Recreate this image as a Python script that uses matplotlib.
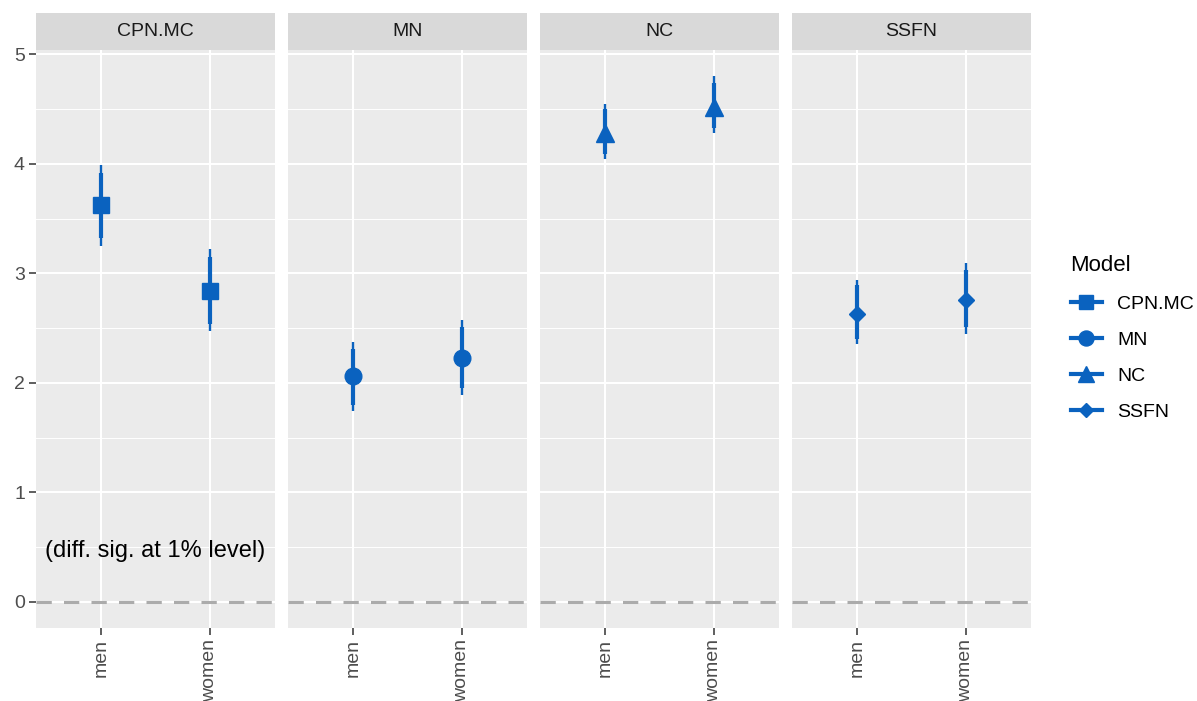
import matplotlib.pyplot as plt
import numpy as np
from matplotlib.lines import Line2D

plt.rcParams['font.family'] = ['Liberation Sans', 'DejaVu Sans']

models = ['CPN.MC', 'MN', 'NC', 'SSFN']
groups = ['men', 'women']
markers = {'CPN.MC': 's', 'MN': 'o', 'NC': '^', 'SSFN': 'D'}
msizes = {'CPN.MC': 11, 'MN': 12, 'NC': 13, 'SSFN': 8}

# point estimates and interval bounds per model, (men, women)
est = {'CPN.MC': [3.62, 2.84], 'MN': [2.06, 2.23], 'NC': [4.28, 4.52], 'SSFN': [2.63, 2.76]}
lo_outer = {'CPN.MC': [3.25, 2.47], 'MN': [1.74, 1.89], 'NC': [4.04, 4.28], 'SSFN': [2.35, 2.45]}
hi_outer = {'CPN.MC': [3.99, 3.22], 'MN': [2.37, 2.57], 'NC': [4.55, 4.80], 'SSFN': [2.94, 3.09]}
lo_inner = {'CPN.MC': [3.32, 2.54], 'MN': [1.80, 1.95], 'NC': [4.09, 4.33], 'SSFN': [2.40, 2.51]}
hi_inner = {'CPN.MC': [3.92, 3.15], 'MN': [2.31, 2.51], 'NC': [4.50, 4.74], 'SSFN': [2.89, 3.03]}

note = '(diff. sig. at 1% level)'

blue = '#0A62BF'
W, H = 1197, 701
fig = plt.figure(figsize=(W / 100, H / 100), dpi=100)

left0, pw, gap = 36, 239, 13
ptop, pbot, strip_h = 50, 628, 37

for i, m in enumerate(models):
    x0 = left0 + i * (pw + gap)
    ax = fig.add_axes([x0 / W, 1 - pbot / H, pw / W, (pbot - ptop) / H])
    ax.set_facecolor('#EBEBEB')
    for s in ax.spines.values():
        s.set_visible(False)
    ax.set_xlim(0.4, 2.6)
    ax.set_ylim(-0.24, 5.04)
    ax.set_yticks(np.arange(0, 6))
    ax.set_yticks(np.arange(0.5, 5, 1), minor=True)
    ax.set_xticks([1, 2])
    ax.set_xticklabels(groups, rotation=90, fontsize=14, color='#4D4D4D')
    ax.tick_params(axis='both', length=5, width=1.1, color='#333333', pad=3)
    ax.tick_params(axis='y', which='minor', length=0)
    ax.grid(True, which='major', color='white', lw=1.5)
    ax.grid(True, which='minor', axis='y', color='white', lw=0.7)
    ax.set_axisbelow(True)
    if i == 0:
        ax.tick_params(axis='y', labelsize=14, labelcolor='#4D4D4D')
    else:
        ax.tick_params(axis='y', labelleft=False, length=0)

    ax.axhline(0, color='#ABABAB', lw=2.2, ls=(0, (5, 4)), zorder=2)

    xs = np.array([1, 2])
    ax.vlines(xs, lo_outer[m], hi_outer[m], color=blue, lw=1.7, zorder=3)
    ax.vlines(xs, lo_inner[m], hi_inner[m], color=blue, lw=3.0, zorder=3)
    ax.plot(xs, est[m], ls='none', marker=markers[m], ms=msizes[m],
            color=blue, zorder=4)

    if i == 0:
        ax.text(1.5, 0.46, note, ha='center', va='center', fontsize=17,
                color='black')

    # facet strip
    sax = fig.add_axes([x0 / W, 1 - ptop / H, pw / W, strip_h / H])
    sax.set_facecolor('#D9D9D9')
    sax.set_xticks([])
    sax.set_yticks([])
    for s in sax.spines.values():
        s.set_visible(False)
    sax.text(0.5, 0.5, m, ha='center', va='center', fontsize=14,
             color='#1A1A1A', transform=sax.transAxes)

handles = [Line2D([0], [0], color=blue, lw=3, marker=markers[m],
                  ms=msizes[m] * 0.9) for m in models]
leg = fig.legend(handles, models, title='Model', loc='upper left',
                 bbox_to_anchor=(1053 / W, 1 - 238 / H), frameon=False,
                 fontsize=14, title_fontsize=16, handlelength=1.6,
                 labelspacing=0.95, handletextpad=0.8, alignment='left')

fig.savefig('out.png', dpi=100)
